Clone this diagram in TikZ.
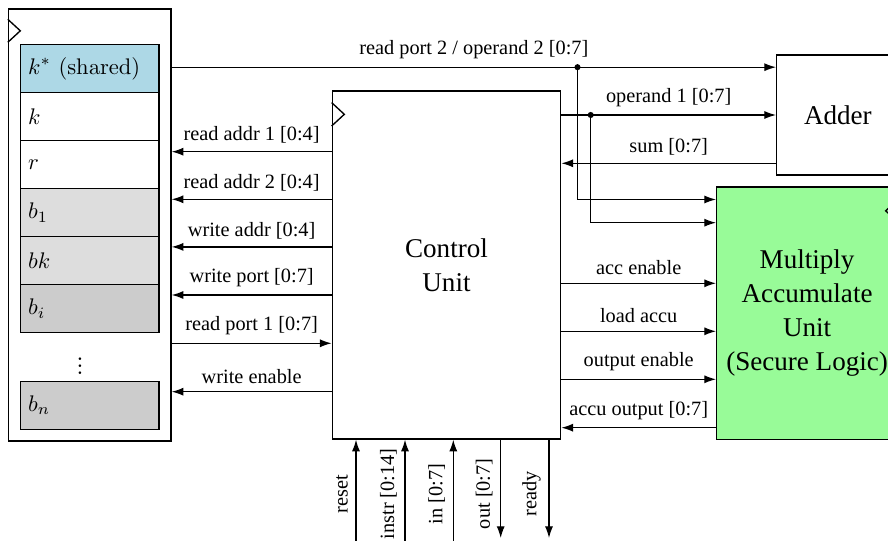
\documentclass[tikz,border=0pt]{standalone}
\usepackage[no-math]{fontspec}
\setmainfont{Liberation Serif}
\usetikzlibrary{arrows.meta,calc}
\definecolor{sharedblue}{RGB}{173,216,230}
\definecolor{celllight}{RGB}{221,221,221}
\definecolor{celldark}{RGB}{204,204,204}
\definecolor{macgreen}{RGB}{152,251,152}
% three closely stacked dots for the skipped registers
\newcommand{\regdots}{\vbox{\baselineskip=3pt\lineskiplimit=-10pt\hbox{\large$.$}\hbox{\large$.$}\hbox{\large$.$}}}
\tikzset{
  block/.style={draw, line width=0.6pt, inner sep=0pt},
  regcell/.style={draw, line width=0.6pt, minimum width=61.27pt, minimum height=21.29pt,
    text width=54.6pt, align=left, inner xsep=3.33pt, inner ysep=0pt},
  sig/.style={line width=0.55pt, -{Latex[length=5.2pt,width=3.6pt]}},
  lbl/.style={font=\small},
  biglabel/.style={font=\fontsize{12}{15}\selectfont, align=center},
  clock/.style={line width=0.6pt},
  junction/.style={circle, fill, inner sep=0pt, minimum size=2.7pt},
}
\begin{document}
\begin{tikzpicture}[x=0.443pt, y=-0.443pt]
\useasboundingbox (0,0) rectangle (888,541);
\clip (0,0) rectangle (888,541);

% register file with its cells
\node[block, minimum width=71.99pt, minimum height=191.38pt] (rf) at (89.75,225) {};
\node[regcell, fill=sharedblue] (c1) at (89.85,68.43)  {$k^{*}\ \mathrm{(shared)}$};
\node[regcell]                  (c2) at (89.85,116.48) {$k$};
\node[regcell]                  (c3) at (89.85,164.53) {$r$};
\node[regcell, fill=celllight]  (c4) at (89.85,212.58) {$b_1$};
\node[regcell, fill=celllight]  (c5) at (89.85,260.63) {$bk$};
\node[regcell, fill=celldark]   (c6) at (89.85,308.68) {$b_i$};
\node[inner sep=0pt] (dots) at (80,366) {\regdots};
\node[regcell, fill=celldark]   (c7) at (89.85,405.25) {$b_n$};

% control unit, adder and MAC
\node[block, biglabel, minimum width=101.18pt, minimum height=154.16pt] (cu) at (446.5,265)
  {Control\\Unit};
\node[block, biglabel, minimum width=54.18pt, minimum height=53.16pt] (adder) at (837.85,115)
  {Adder};
\node[block, biglabel, fill=macgreen, minimum width=80.09pt, minimum height=111.77pt] (mac)
  at (807.1,313.15) {Multiply\\Accumulate\\Unit\\(Secure Logic)};

% clock inputs
\draw[clock] ($(rf.north west)+(0,11)$) -- ++(12.5,11.5) -- ++(-12.5,11.5);
\draw[clock] ($(cu.north west)+(0,12.3)$) -- ++(12.7,11.7) -- ++(-12.7,11.7);
\draw[clock] ($(mac.north east)+(0,13)$) -- ++(-12.5,11.5) -- ++(12.5,11.5);

% row heights of the horizontal signals
\coordinate (yOpB) at (0,67.2);
\coordinate (yOpA) at (0,115);
\coordinate (ySum) at (0,163.3);
\coordinate (yRa1) at (0,151.7);
\coordinate (yRa2) at (0,199.3);
\coordinate (yWa)  at (0,246.9);
\coordinate (yWp)  at (0,295);
\coordinate (yRp1) at (0,343.3);
\coordinate (yWe)  at (0,391.7);
\coordinate (yMacB) at (0,199.5);
\coordinate (yMacA) at (0,222.7);
\coordinate (yAcc) at (0,283.3);
\coordinate (yLoad) at (0,331.3);
\coordinate (yOe)  at (0,379.3);
\coordinate (yAo)  at (0,427.7);

% register file <-> control unit
\draw[sig] (cu.west |- yRa1) -- (rf.east |- yRa1) node[midway, above, lbl] {read addr 1 [0:4]};
\draw[sig] (cu.west |- yRa2) -- (rf.east |- yRa2) node[midway, above, lbl] {read addr 2 [0:4]};
\draw[sig] (cu.west |- yWa)  -- (rf.east |- yWa)  node[midway, above, lbl] {write addr [0:4]};
\draw[sig] (cu.west |- yWp)  -- (rf.east |- yWp)  node[midway, above, lbl] {write port [0:7]};
\draw[sig] (rf.east |- yRp1) -- (cu.west |- yRp1) node[midway, above, lbl] {read port 1 [0:7]};
\draw[sig] (cu.west |- yWe)  -- (rf.east |- yWe)  node[midway, above, lbl] {write enable};

% operands to the adder, with branches to the MAC
\node[junction] (jB) at (577.5,67.2) {};
\node[junction] (jA) at (590.7,115) {};
\draw[sig] (rf.east |- yOpB) -- (adder.west |- yOpB) node[midway, above, lbl] {read port 2 / operand 2 [0:7]};
\draw[sig] (cu.east |- yOpA) -- (adder.west |- yOpA) node[midway, above, lbl] {operand 1 [0:7]};
\draw[sig] (adder.west |- ySum) -- (cu.east |- ySum) node[midway, above, lbl] {sum [0:7]};
\draw[sig] (jB.center) |- (mac.west |- yMacB);
\draw[sig] (jA.center) |- (mac.west |- yMacA);

% control unit <-> MAC
\draw[sig] (cu.east |- yAcc)  -- (mac.west |- yAcc)  node[midway, above, lbl] {acc enable};
\draw[sig] (cu.east |- yLoad) -- (mac.west |- yLoad) node[midway, above, lbl] {load accu};
\draw[sig] (cu.east |- yOe)   -- (mac.west |- yOe)   node[midway, above, lbl] {output enable};
\draw[sig] (mac.west |- yAo)  -- (cu.east |- yAo)    node[midway, above, lbl] {accu output [0:7]};

% external ports below the control unit
\coordinate (pReset) at (356,548);
\coordinate (pInstr) at (405,548);
\coordinate (pIn)    at (453.3,548);
\coordinate (pOut)   at (500.7,538);
\coordinate (pReady) at (549,538);
\draw[sig] (pReset) -- (pReset |- cu.south) node[pos=0.5, rotate=90, anchor=south, lbl] {reset};
\draw[sig] (pInstr) -- (pInstr |- cu.south) node[pos=0.5, rotate=90, anchor=south, lbl] {instr [0:14]};
\draw[sig] (pIn)    -- (pIn |- cu.south)    node[pos=0.5, rotate=90, anchor=south, lbl] {in [0:7]};
\draw[sig] (pOut |- cu.south)   -- (pOut)   node[pos=0.55, rotate=90, anchor=south, lbl] {out [0:7]};
\draw[sig] (pReady |- cu.south) -- (pReady) node[pos=0.55, rotate=90, anchor=south, lbl] {ready};
\end{tikzpicture}
\end{document}
